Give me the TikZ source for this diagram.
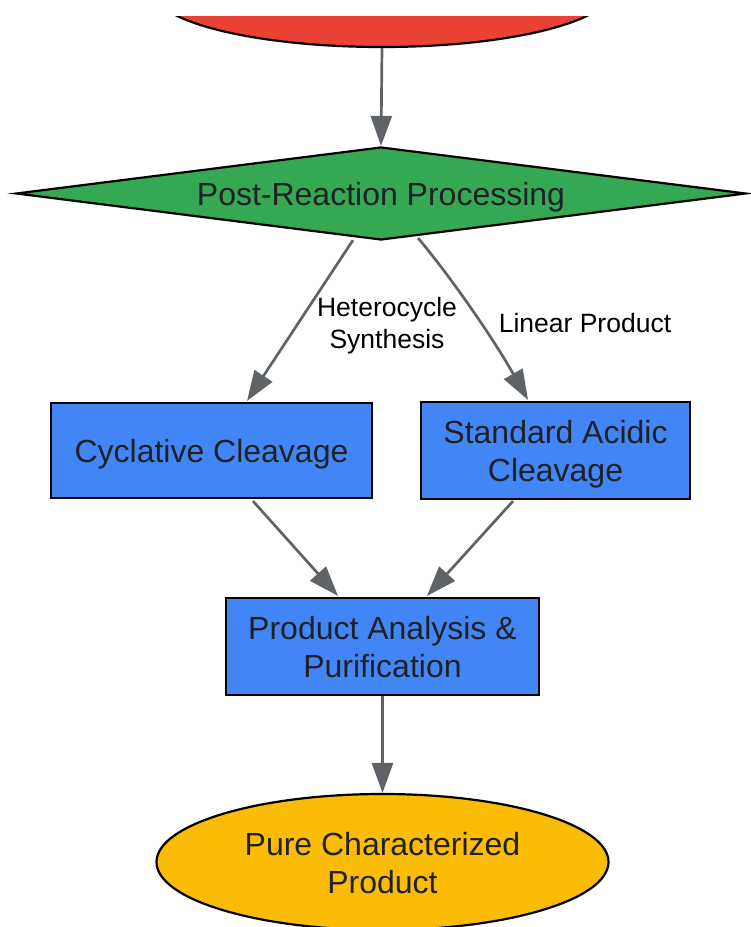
\documentclass[tikz,border=0pt]{standalone}
\usepackage{fontspec}
\setmainfont{Liberation Sans}
\usetikzlibrary{shapes.geometric,arrows.meta,calc}
\definecolor{gred}{HTML}{EA4335}
\definecolor{ggreen}{HTML}{34A853}
\definecolor{gblue}{HTML}{4285F4}
\definecolor{gyellow}{HTML}{FBBC05}
\definecolor{textc}{HTML}{202124}
\definecolor{edgec}{HTML}{5F6368}
\newcommand\nodestrut{\rule[-7pt]{0pt}{37pt}}
\newcommand\hs{\rule[-7pt]{0pt}{38pt}}
\begin{document}
\begin{tikzpicture}[x=1pt,y=-1pt,
  flow/.style={draw=black,line width=2.2pt,text=textc,font=\fontsize{32}{38}\selectfont,align=center,inner sep=0pt,
    execute at begin node=\nodestrut, execute at end node=\nodestrut},
  box/.style={flow,rectangle,fill=gblue},
  edge/.style={draw=edgec,line width=2.7pt,-{Triangle[length=30pt,width=21pt]}},
  lab/.style={font=\fontsize{26.5}{32}\selectfont,align=center,text=black}]
\useasboundingbox (0,0) rectangle (751,927);
\begin{scope}
\clip (0,16) rectangle (751,927);
\node[flow,ellipse,fill=gred,minimum width=460pt,minimum height=114pt] (start) at (382,-10) {};
\node[flow,diamond,fill=ggreen,aspect=7.77,minimum width=730pt,minimum height=93pt] (dia) at (381,193.5) {Post-Reaction Processing};
\node[box,minimum width=321pt,minimum height=95pt] (cyc) at (211.5,450.5) {Cyclative Cleavage};
\node[box,minimum width=269pt,minimum height=97pt] (std) at (555.5,450.5) {\hs Standard Acidic\\Cleavage};
\node[box,minimum width=313pt,minimum height=97pt] (prod) at (382.5,646.5) {\hs Product Analysis \&\\Purification};
\node[flow,ellipse,fill=gyellow,minimum width=452pt,minimum height=136pt] (endn) at (382.5,862) {\hs Pure Characterized\\Product};

\draw[edge] (start.south) -- (dia.north);
\draw[edge] ($(dia.south)+(-28,-1)$) -- ($(cyc.north)+(35.5,-1)$);
\draw[edge] ($(dia.south)+(37,-3)$) .. controls ($(dia.south)+(62,26)$) and ($(dia.south)+(108,90)$) .. ($(std.north)+(-27.5,-1)$);
\draw[edge] ($(cyc.south)+(41.5,2)$) -- ($(prod.north)+(-44.5,-1)$);
\draw[edge] ($(std.south)+(-42.5,1)$) -- ($(prod.north)+(44.5,-1)$);
\draw[edge] (prod.south) -- (endn.north);

\node[lab] (l1) at (387,326) {Heterocycle\\Synthesis};
\node[lab] (l2) at (585,323) {Linear Product};
\end{scope}
\end{tikzpicture}
\end{document}
